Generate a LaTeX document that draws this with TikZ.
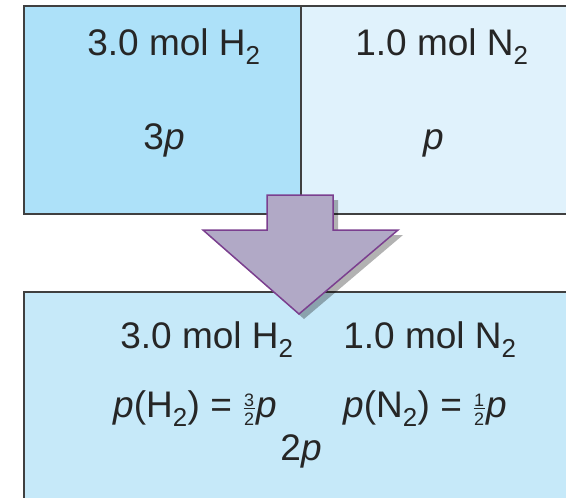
\documentclass[tikz,border=0pt]{standalone}
\usepackage{fontspec}
\setmainfont{Liberation Sans}
\usetikzlibrary{shadows}

\definecolor{hydrofill}{HTML}{ADE1F9}
\definecolor{nitrofill}{HTML}{E0F2FC}
\definecolor{mixfill}{HTML}{C6E9F9}
\definecolor{arrowfill}{HTML}{B1A9C6}
\definecolor{arrowline}{HTML}{7B3F8F}

% small stacked fraction in text
\newcommand{\gasfrac}[2]{\kern1.5pt\raisebox{-8pt}{\fontsize{18}{18}\selectfont
  \vbox{\offinterlineskip\halign{\hfil##\hfil\cr #1\cr
    \noalign{\vskip2pt}\rule{11pt}{1.2pt}\cr
    \noalign{\vskip3pt}#2\cr}}}\kern1.5pt}

\begin{document}
\begin{tikzpicture}[
  x=1pt, y=-1pt,
  txt/.style={anchor=base, inner sep=0pt, text=black!85,
              font=\fontsize{37}{44}\selectfont},
  wall/.style={draw=black!75, line width=1.8pt},
  bigarrow/.style={fill=arrowfill, draw=arrowline, line width=1.5pt,
                   drop shadow={shadow xshift=5pt, shadow yshift=-5pt,
                                opacity=0.3, fill=black}},
]
\fill[white] (0,0) rectangle (566,498);
\useasboundingbox (0,0) rectangle (566,498);

% Separate gases
\fill[hydrofill] (24,6) rectangle (301,214);
\fill[nitrofill] (301,6) rectangle (572,214);
\draw[wall] (572,6) -- (24,6) -- (24,214) -- (572,214);
\draw[wall, line width=1.2pt] (301,6) -- (301,214);

\node[txt] (h2left) at (174,55) {3.0 mol H\textsubscript{2}};
\node[txt] (pleft) at (164,149) {3\textit{p}};
\node[txt] (n2right) at (442,55) {1.0 mol N\textsubscript{2}};
\node[txt] (pright) at (434,149) {\textit{p}};

% Mixture
\fill[mixfill] (24,292) rectangle (572,504);
\draw[wall] (572,292) -- (24,292) -- (24,504);

\node[txt] (h2mix) at (207,348) {3.0 mol H\textsubscript{2}};
\node[txt] (n2mix) at (430,348) {1.0 mol N\textsubscript{2}};
\node[txt] (ph2) at (195,417) {\textit{p}(H\textsubscript{2}) = \gasfrac{3}{2}\textit{p}};
\node[txt] (pn2) at (425,417) {\textit{p}(N\textsubscript{2}) = \gasfrac{1}{2}\textit{p}};
\node[txt] (ptotal) at (301,460) {2\textit{p}};

% Mixing arrow
\draw[bigarrow] (267,195) -- (333,195) -- (333,230) -- (398,230)
  -- (299,314) -- (203,230) -- (267,230) -- cycle;

\end{tikzpicture}
\end{document}
